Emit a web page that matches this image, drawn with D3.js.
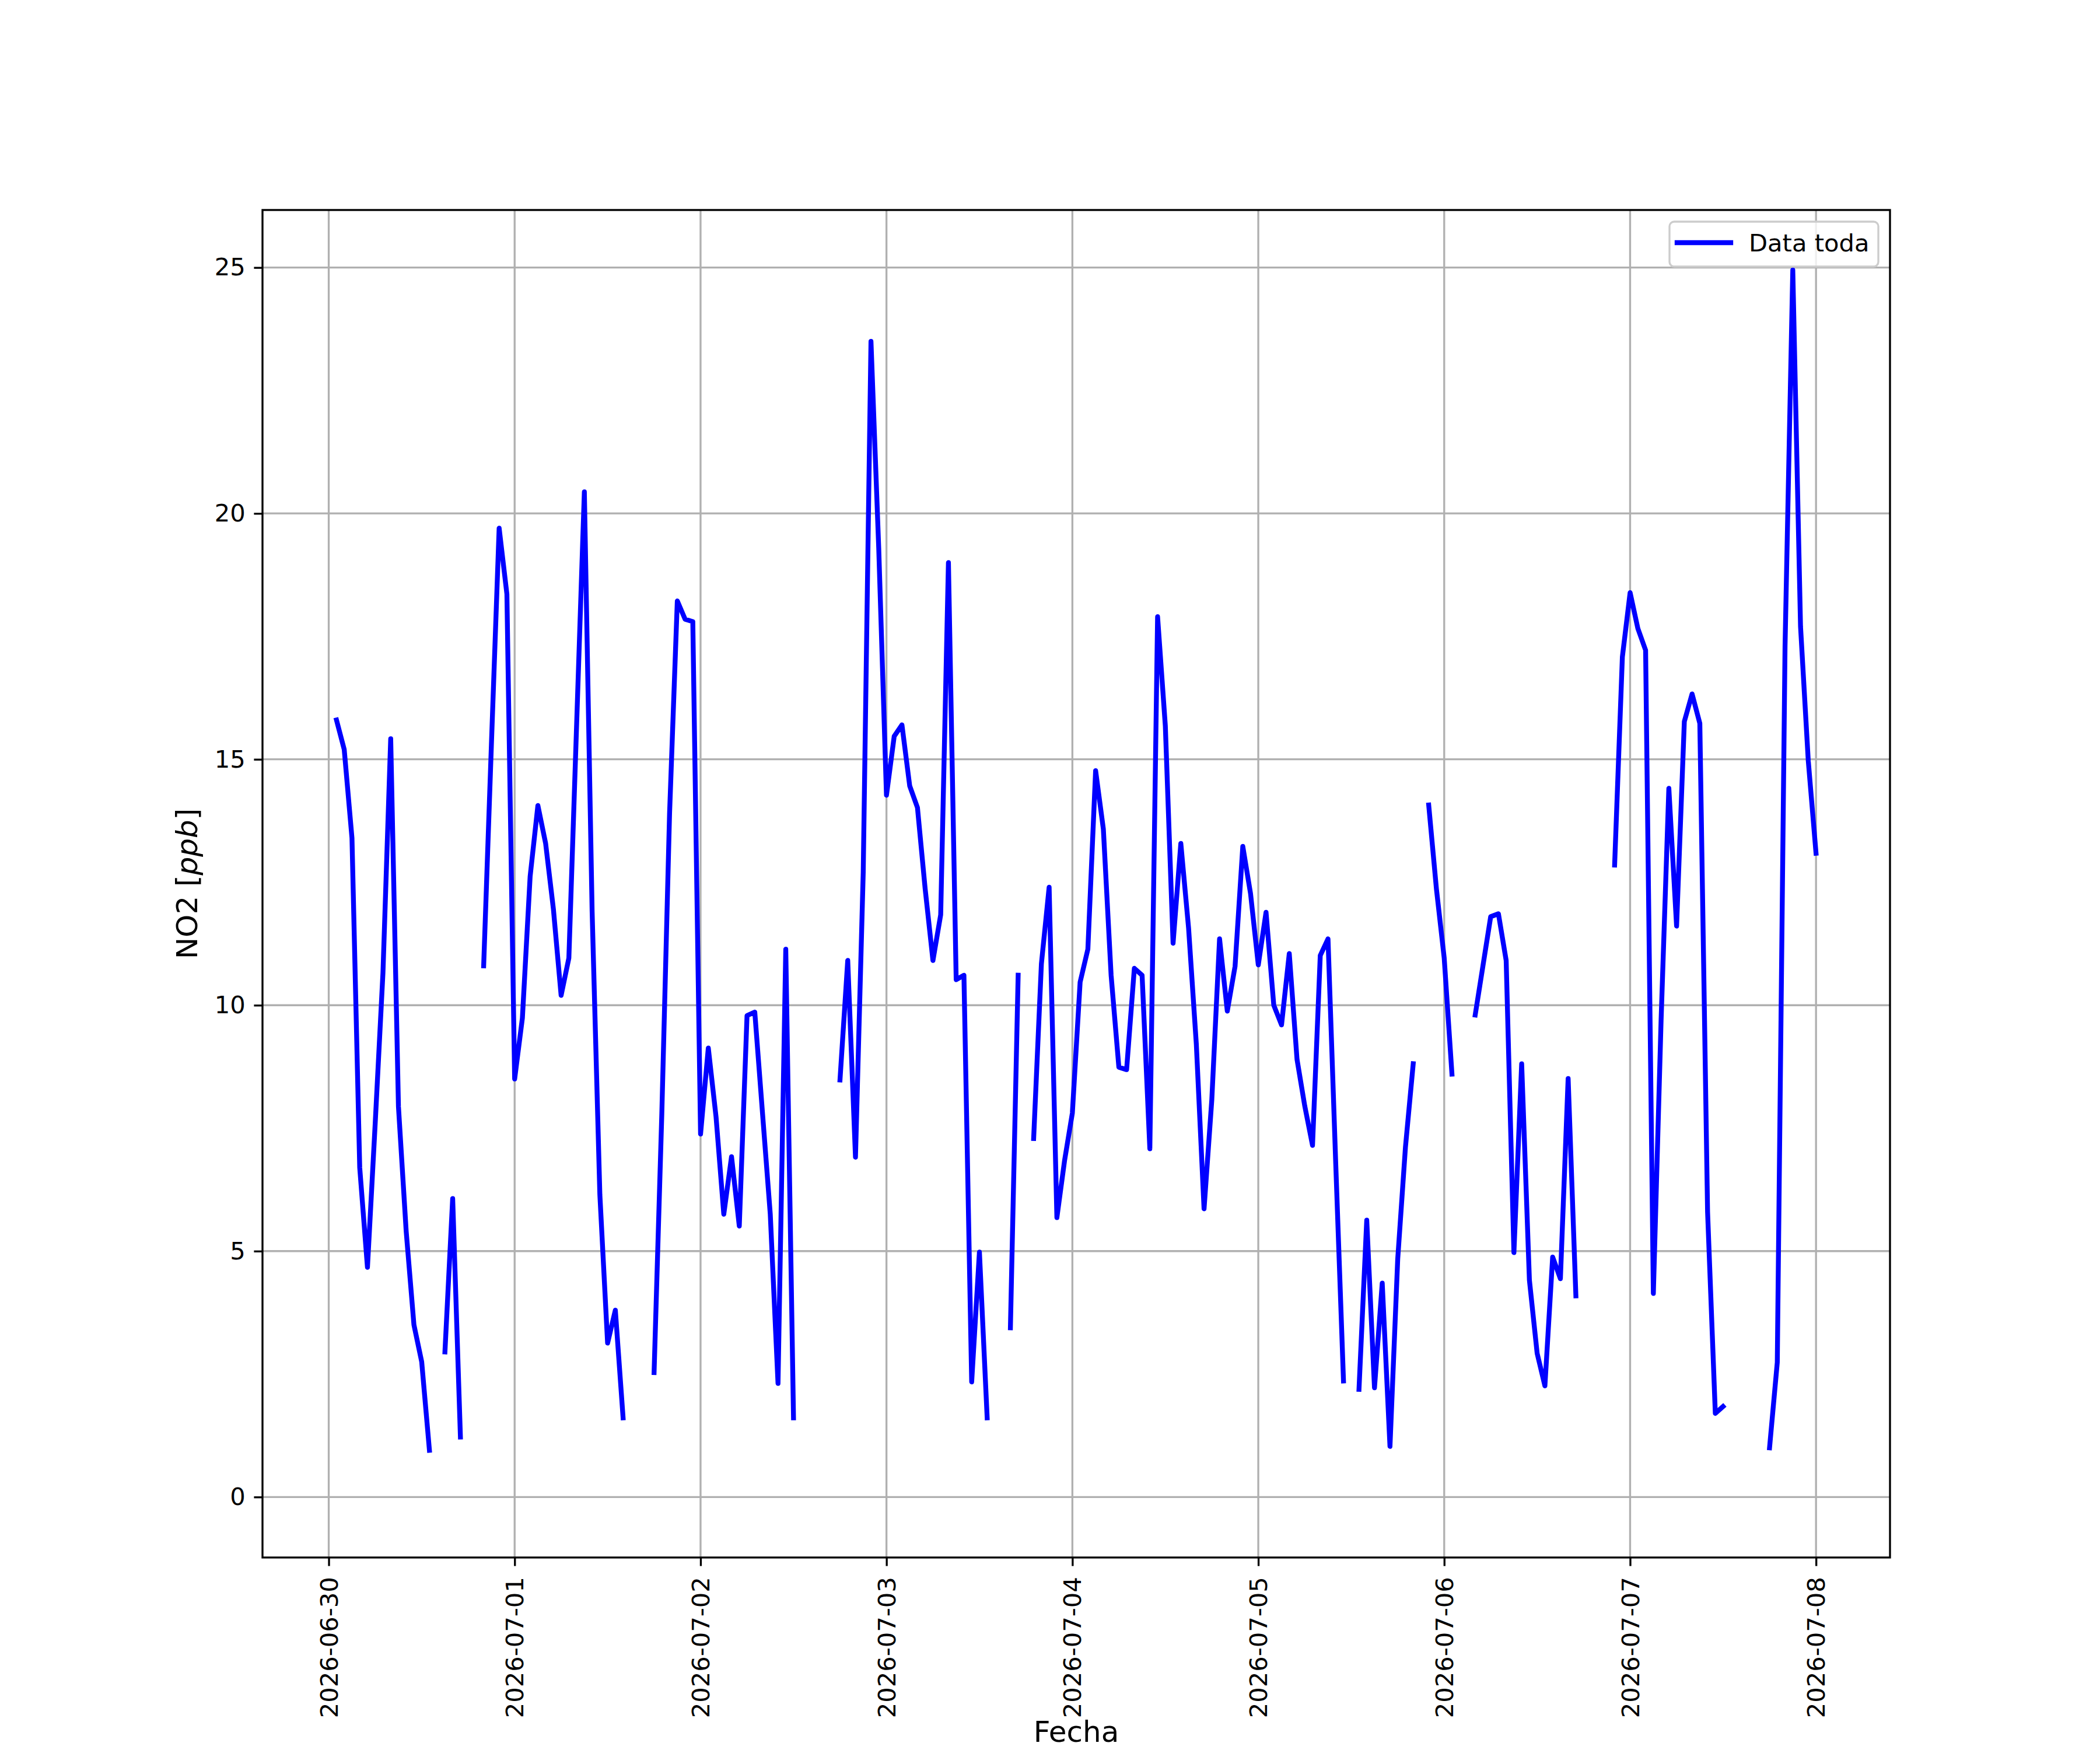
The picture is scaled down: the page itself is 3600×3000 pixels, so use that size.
<!DOCTYPE html>
<html>
<head>
<meta charset="utf-8">
<script src="https://cdn.jsdelivr.net/npm/d3@7"></script>
<style>
  html, body { margin: 0; padding: 0; background: #fff; }
  svg { display: block; font-family: "DejaVu Sans", sans-serif; }
</style>
</head>
<body>
<svg id="chart"></svg>
<script>
// hourly NO2 readings, first one at 2026-06-30 01:00 (null = no reading)
const firstReading = "2026-06-30 01:00";
const no2Values = [
  15.8, 15.2, 13.4, 6.7, 4.67, 7.6, 10.66, 15.42, 7.94, 5.4, 3.5, 2.75,
  0.95, null, 2.95, 6.07, 1.22, null, null, 10.8, 15.3, 19.7, 18.36, 8.5,
  9.74, 12.62, 14.06, 13.29, 11.96, 10.2, 10.96, 15.7, 20.44, 11.92, 6.15, 3.13,
  3.8, 1.61, null, null, null, 2.53, 7.8, 13.9, 18.22, 17.85, 17.8, 7.38,
  9.13, 7.73, 5.75, 6.92, 5.51, 9.79, 9.86, 7.8, 5.75, 2.31, 11.14, 1.61,
  null, null, null, null, null, 8.48, 10.91, 6.91, 12.7, 23.5, 19.3, 14.27,
  15.47, 15.7, 14.46, 14.02, 12.36, 10.91, 11.84, 19.0, 10.52, 10.61, 2.34, 4.98,
  1.61, null, null, 3.44, 10.61, null, 7.29, 10.84, 12.4, 5.68, 6.85, 7.81,
  10.47, 11.14, 14.77, 13.58, 10.61, 8.74, 8.69, 10.75, 10.61, 7.08, 17.9, 15.68,
  11.26, 13.29, 11.57, 9.21, 5.86, 8.08, 11.35, 9.88, 10.79, 13.23, 12.27, 10.82,
  11.89, 10.0, 9.6, 11.05, 8.9, 7.95, 7.15, 11.01, 11.35, 6.77, 2.36, null,
  2.19, 5.63, 2.22, 4.35, 1.03, 4.84, 7.12, 8.81, null, 14.07, 12.36, 10.96,
  8.6, null, null, 9.8, 10.8, 11.8, 11.86, 10.91, 4.97, 8.81, 4.41, 2.92,
  2.26, 4.88, 4.44, 8.51, 4.09, null, null, null, null, 12.85, 17.08, 18.39,
  17.66, 17.22, 4.14, 9.7, 14.41, 11.61, 15.77, 16.33, 15.73, 5.8, 1.7, 1.84,
  null, null, null, null, null, 1.0, 2.74, 17.3, 24.95, 17.7, 14.97, 13.09
];
const xTickLabels = ["2026-06-30", "2026-07-01", "2026-07-02", "2026-07-03", "2026-07-04",
                     "2026-07-05", "2026-07-06", "2026-07-07", "2026-07-08"];
const yTickValues = [0, 5, 10, 15, 20, 25];
const yLimits = [-1.23, 26.17];
const seriesName = "Data toda";

const width = 3600;
const height = 3000;
const margin = { top: 360, right: 360, bottom: 330, left: 450 };
const innerWidth = width - margin.left - margin.right;
const innerHeight = height - margin.top - margin.bottom;

const fs = 41.67;        // 10pt @ 300dpi
const fsLabel = 50;      // 12pt
const lw = 3.33;         // 0.8pt
const tickLen = 14.6;

const parseTime = d3.timeParse("%Y-%m-%d %H:%M");
const parseDay = d3.timeParse("%Y-%m-%d");
const t0 = parseTime(firstReading);
const data = no2Values.map((v, i) => ({ t: d3.timeHour.offset(t0, i), v }));

const svg = d3.select("#chart")
  .attr("width", width)
  .attr("height", height)
  .attr("viewBox", `0 0 ${width} ${height}`);

svg.append("rect").attr("width", width).attr("height", height).attr("fill", "#fff");

// matplotlib-like 5% margins on x
const tExtent = d3.extent(data, d => d.t);
const pad = (tExtent[1] - tExtent[0]) * 0.05;
const xScale = d3.scaleTime()
  .domain([new Date(+tExtent[0] - pad), new Date(+tExtent[1] + pad)])
  .range([0, innerWidth]);

const yScale = d3.scaleLinear()
  .domain(yLimits)
  .range([innerHeight, 0]);

const g = svg.append("g")
  .attr("transform", `translate(${margin.left},${margin.top})`);

const xTicks = xTickLabels.map(parseDay);

// grid
g.append("g").selectAll("line")
  .data(xTicks)
  .join("line")
  .attr("x1", d => xScale(d)).attr("x2", d => xScale(d))
  .attr("y1", 0).attr("y2", innerHeight)
  .attr("stroke", "#b0b0b0").attr("stroke-width", lw);

g.append("g").selectAll("line")
  .data(yTickValues)
  .join("line")
  .attr("x1", 0).attr("x2", innerWidth)
  .attr("y1", d => yScale(d)).attr("y2", d => yScale(d))
  .attr("stroke", "#b0b0b0").attr("stroke-width", lw);

// line
svg.append("clipPath").attr("id", "clip")
  .append("rect").attr("width", innerWidth).attr("height", innerHeight);

const line = d3.line()
  .defined(d => d.v !== null)
  .x(d => xScale(d.t))
  .y(d => yScale(d.v));

g.append("path")
  .datum(data)
  .attr("clip-path", "url(#clip)")
  .attr("d", line)
  .attr("fill", "none")
  .attr("stroke", "#0000ff")
  .attr("stroke-width", 8.33)
  .attr("stroke-linejoin", "round")
  .attr("stroke-linecap", "square");

// X axis
const xAxis = d3.axisBottom(xScale)
  .tickValues(xTicks)
  .tickFormat(d3.timeFormat("%Y-%m-%d"))
  .tickSize(tickLen)
  .tickPadding(tickLen);

const xAxisG = g.append("g")
  .attr("transform", `translate(0,${innerHeight})`)
  .call(xAxis);
xAxisG.select(".domain").remove();
xAxisG.selectAll(".tick line").attr("stroke", "#000").attr("stroke-width", lw);
xAxisG.selectAll("text")
  .attr("font-size", fs)
  .attr("font-family", "DejaVu Sans")
  .attr("fill", "#000")
  .attr("text-anchor", "end")
  .attr("x", 0)
  .attr("y", 0)
  .attr("dy", "0.35em")
  .attr("transform", `translate(0,${tickLen * 2 + 4}) rotate(-90)`);

// Y axis
const yAxis = d3.axisLeft(yScale)
  .tickValues(yTickValues)
  .tickFormat(d3.format("d"))
  .tickSize(tickLen)
  .tickPadding(tickLen);

const yAxisG = g.append("g").call(yAxis);
yAxisG.select(".domain").remove();
yAxisG.selectAll(".tick line").attr("stroke", "#000").attr("stroke-width", lw);
yAxisG.selectAll("text")
  .attr("font-size", fs)
  .attr("font-family", "DejaVu Sans")
  .attr("fill", "#000");

// frame
g.append("rect")
  .attr("width", innerWidth).attr("height", innerHeight)
  .attr("fill", "none").attr("stroke", "#000").attr("stroke-width", lw);

// axis labels
svg.append("text")
  .attr("x", margin.left + innerWidth / 2)
  .attr("y", 2986)
  .attr("text-anchor", "middle")
  .attr("font-size", fsLabel)
  .text("Fecha");

const yLab = svg.append("text")
  .attr("transform", `translate(338,${margin.top + innerHeight / 2}) rotate(-90)`)
  .attr("text-anchor", "middle")
  .attr("font-size", fsLabel);
yLab.append("tspan").text("NO2 [");
yLab.append("tspan").attr("font-style", "italic").text("ppb");
yLab.append("tspan").text("]");

// legend
const legend = svg.append("g").attr("transform", "translate(2862,380)");
legend.append("rect")
  .attr("width", 358).attr("height", 77)
  .attr("rx", 8).attr("ry", 8)
  .attr("fill", "#fff").attr("fill-opacity", 0.8)
  .attr("stroke", "#cccccc").attr("stroke-width", lw);
legend.append("line")
  .attr("x1", 13).attr("x2", 105)
  .attr("y1", 36).attr("y2", 36)
  .attr("stroke", "#0000ff").attr("stroke-width", 8.33)
  .attr("stroke-linecap", "square");
legend.append("text")
  .attr("x", 136).attr("y", 51)
  .attr("font-size", fs)
  .text(seriesName);
</script>
</body>
</html>
